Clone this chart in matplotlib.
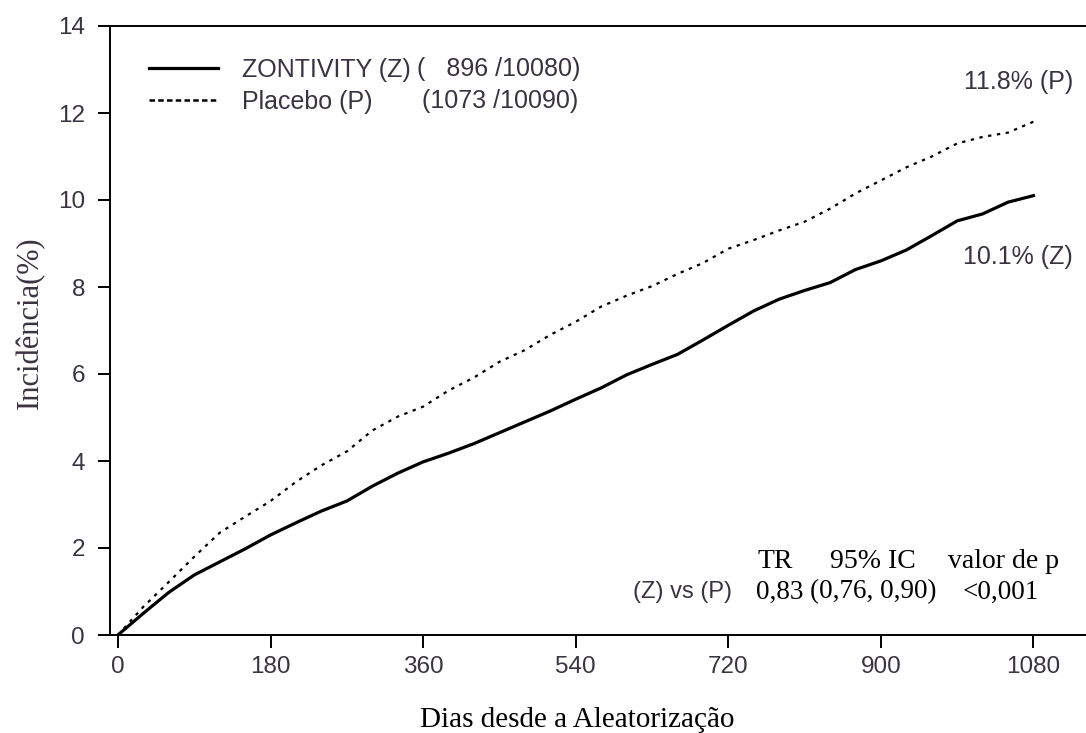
import matplotlib
matplotlib.use("Agg")
import matplotlib.pyplot as plt
from matplotlib.lines import Line2D

# cumulative incidence (%), every 30 days
days = list(range(0, 1081, 30))
zontivity = [0, 0.5, 0.98, 1.38, 1.68, 1.98, 2.3,
             2.58, 2.85, 3.08, 3.42, 3.72, 3.98,
             4.18, 4.4, 4.65, 4.9, 5.15, 5.42,
             5.68, 5.98, 6.22, 6.45, 6.78, 7.12,
             7.45, 7.72, 7.92, 8.1, 8.4, 8.6,
             8.85, 9.18, 9.52, 9.68, 9.95, 10.1]
placebo = [0, 0.65, 1.22, 1.8, 2.35, 2.72, 3.08,
           3.52, 3.9, 4.22, 4.7, 5.02, 5.25,
           5.62, 5.92, 6.28, 6.55, 6.9, 7.2,
           7.55, 7.8, 8.02, 8.3, 8.55, 8.88,
           9.08, 9.3, 9.5, 9.8, 10.15, 10.45,
           10.75, 11.0, 11.3, 11.45, 11.55, 11.8]

series_names = ["ZONTIVITY (Z)", "Placebo (P)"]
series_counts = ["(   896 /10080)", "(1073 /10090)"]
end_labels = ["10.1% (Z)", "11.8% (P)"]
xticks = [0, 180, 360, 540, 720, 900, 1080]
yticks = [0, 2, 4, 6, 8, 10, 12, 14]
stat_header = ["TR", "95% IC", "valor de p"]
stat_row = ["(Z) vs (P)", "0,83", "(0,76, 0,90)", "<0,001"]

W, H = 1086, 733
SANS = "Liberation Sans"
SERIF = "Liberation Serif"
TXT = "#3a3340"


def fxy(px, py):
    # pixel position in the 1086x733 picture -> figure fraction
    return px / W, 1 - py / H


fig = plt.figure(figsize=(W / 100, H / 100), dpi=100)
ax = fig.add_axes([110 / W, 1 - 635 / H, (W - 110) / W, (635 - 26) / H])

ax.plot(days, zontivity, color="black", lw=2.3, solid_joinstyle="round")
ax.plot(days, placebo, color="black", lw=1.6, linestyle=(0, (1.5, 2.5)))

ax.set_xlim(-9.4, 1142)
ax.set_ylim(0, 14)
ax.set_xticks(xticks)
ax.set_yticks(yticks)
ax.spines["right"].set_visible(False)
for s in ["left", "top", "bottom"]:
    ax.spines[s].set_linewidth(1.4)
ax.tick_params(axis="both", direction="out", length=9, width=1.4,
               labelsize=17.5, labelcolor=TXT)
ax.tick_params(axis="y", pad=9)
ax.tick_params(axis="x", pad=6)
for lab in ax.get_xticklabels() + ax.get_yticklabels():
    lab.set_fontfamily(SANS)

fig.text(*fxy(30, 323), "Incidência(%)", rotation=90, ha="center", va="center",
         family=SERIF, fontsize=22, color=TXT)
fig.text(*fxy(577, 720), "Dias desde a Aleatorização", ha="center", va="center",
         family=SERIF, fontsize=21, color="black")

# legend
handles = [Line2D([], [], color="black", lw=2.3),
           Line2D([], [], color="black", lw=1.8, linestyle=(0, (2.2, 1.3)))]
leg = ax.legend(handles, series_names, loc="upper left",
                bbox_to_anchor=((149 - 110) / (W - 110), (635 - 58) / 609),
                frameon=False, borderpad=0, borderaxespad=0,
                handlelength=2.75, handletextpad=0.95, labelspacing=0.3,
                prop={"family": SANS, "size": 18})
for t in leg.get_texts():
    t.set_color(TXT)
fig.text(*fxy(417, 69), series_counts[0], ha="left", va="center",
         family=SANS, fontsize=18, color=TXT)
fig.text(*fxy(422, 101), series_counts[1], ha="left", va="center",
         family=SANS, fontsize=18, color=TXT)

# end-of-curve labels
fig.text(*fxy(1073, 257), end_labels[0], ha="right", va="center",
         family=SANS, fontsize=18, color=TXT)
fig.text(*fxy(1073, 82), end_labels[1], ha="right", va="center",
         family=SANS, fontsize=18, color=TXT)

# hazard ratio table
for x, s in zip([758, 830, 948], stat_header):
    fig.text(*fxy(x, 562), s, ha="left", va="center", family=SERIF,
             fontsize=20, color="black")
fig.text(*fxy(633, 592), stat_row[0], ha="left", va="center", family=SANS,
         fontsize=17, color=TXT)
for x, s in zip([756, 810, 963], stat_row[1:]):
    fig.text(*fxy(x, 592), s, ha="left", va="center", family=SERIF,
             fontsize=19.5, color="black")

fig.savefig("out.png", dpi=100)
